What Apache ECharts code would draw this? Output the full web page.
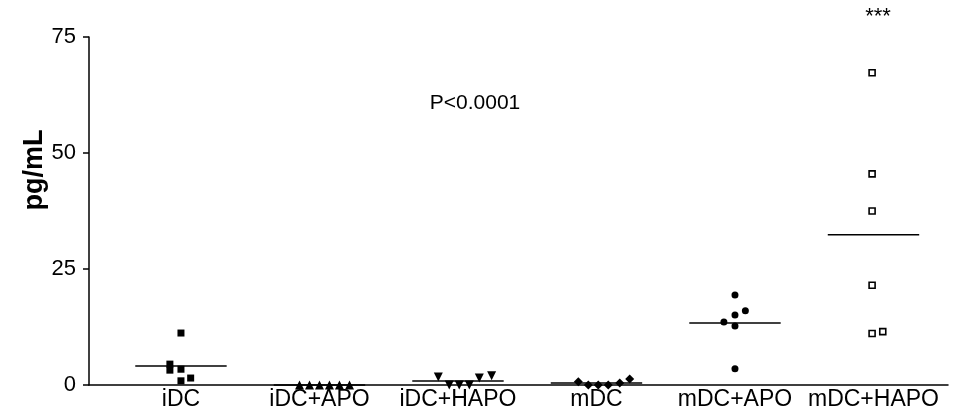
<!DOCTYPE html>
<html>
<head>
<meta charset="utf-8">
<script src="https://cdn.jsdelivr.net/npm/echarts@6/dist/echarts.min.js"></script>
<style>
  html, body { margin: 0; padding: 0; background: #fff; }
  #chart { width: 954px; height: 416px; }
</style>
</head>
<body>
<div id="chart"></div>
<script>
// Groups along the x axis
const categories = ['iDC', 'iDC+APO', 'iDC+HAPO', 'mDC', 'mDC+APO', 'mDC+HAPO'];

// Measured concentrations (pg/mL), one array per group
const iDC      = [11.2, 4.5, 3.2, 3.4, 0.9, 1.5];
const iDC_APO  = [0, 0, 0, 0, 0, 0];
const iDC_HAPO = [1.7, 0, 0, 0, 1.5, 2.0];
const mDC      = [0.7, 0, 0, 0, 0.45, 1.3];
const mDC_APO  = [19.4, 16.0, 15.1, 13.6, 12.7, 3.5];
const mDC_HAPO = [67.3, 45.5, 37.5, 21.5, 11.1, 11.5];

// Horizontal scatter of each dot within its column (category units)
const spread_iDC      = [0, -0.08, -0.08, 0, 0, 0.07];
const spread_iDC_APO  = [-0.144, -0.072, 0, 0.072, 0.144, 0.217];
const spread_iDC_HAPO = [-0.142, -0.063, 0.009, 0.082, 0.154, 0.243];
const spread_mDC      = [-0.131, -0.059, 0.013, 0.085, 0.168, 0.240];
const spread_mDC_APO  = [0, 0.075, 0, -0.08, 0, 0];
const spread_mDC_HAPO = [-0.01, -0.01, -0.01, -0.01, -0.01, 0.067];

const yTicks = [0, 25, 50, 75];

const groups = [iDC, iDC_APO, iDC_HAPO, mDC, mDC_APO, mDC_HAPO];
const spreads = [spread_iDC, spread_iDC_APO, spread_iDC_HAPO, spread_mDC, spread_mDC_APO, spread_mDC_HAPO];

// marker per group
const markers = [
  { symbol: 'rect', size: 7, rotate: 0, fill: '#000' },
  { symbol: 'triangle', size: 9, rotate: 0, fill: '#000' },
  { symbol: 'triangle', size: 9, rotate: 180, fill: '#000' },
  { symbol: 'diamond', size: 9, rotate: 0, fill: '#000' },
  { symbol: 'circle', size: 7, rotate: 0, fill: '#000' },
  { symbol: 'rect', size: 6, rotate: 0, fill: '#fff' }
];

const mean = arr => arr.reduce((a, b) => a + b, 0) / arr.length;
const means = groups.map(mean);

const FONT = '"Liberation Sans", Arial, sans-serif';

const series = groups.map((vals, gi) => ({
  type: 'scatter',
  symbol: markers[gi].symbol,
  symbolSize: markers[gi].size,
  symbolRotate: markers[gi].rotate,
  itemStyle: {
    color: markers[gi].fill,
    borderColor: '#000',
    borderWidth: markers[gi].fill === '#fff' ? 1.6 : 0,
    opacity: 1
  },
  z: 5,
  data: vals.map((v, i) => [gi + spreads[gi][i], v])
}));

// Mean bar for each group
series.push({
  type: 'custom',
  z: 4,
  data: means.map((m, i) => [i, m]),
  renderItem: function (params, api) {
    const x = api.value(0), y = api.value(1);
    const p1 = api.coord([x - 0.33, y]);
    const p2 = api.coord([x + 0.33, y]);
    return {
      type: 'line',
      shape: { x1: p1[0], y1: p1[1], x2: p2[0], y2: p2[1] },
      style: { stroke: '#000', lineWidth: 1.5 }
    };
  }
});

const chart = echarts.init(document.getElementById('chart'));
chart.setOption({
  animation: false,
  backgroundColor: '#fff',
  grid: { left: 89, right: 6, top: 37, bottom: 31, containLabel: false },
  xAxis: {
    type: 'value',
    min: -0.664,
    max: 5.538,
    axisLine: { show: true, onZero: false, lineStyle: { color: '#000', width: 1.5 } },
    axisTick: { show: false },
    splitLine: { show: false },
    axisLabel: {
      customValues: [0, 1, 2, 3, 4, 5],
      formatter: v => categories[Math.round(v)],
      color: '#000',
      fontFamily: FONT,
      fontSize: 23,
      margin: 3
    }
  },
  yAxis: {
    type: 'value',
    min: yTicks[0],
    max: yTicks[yTicks.length - 1],
    interval: 25,
    axisLine: { show: true, onZero: false, lineStyle: { color: '#000', width: 1.5 } },
    axisTick: { show: true, length: 6, lineStyle: { color: '#000', width: 1.5 } },
    splitLine: { show: false },
    axisLabel: { color: '#000', fontFamily: FONT, fontSize: 22, margin: 13 }
  },
  graphic: [
    {
      type: 'text',
      x: 35, y: 170,
      rotation: Math.PI / 2,
      style: {
        text: 'pg/mL', fill: '#000', fontFamily: FONT, fontWeight: 'bold',
        fontSize: 27, align: 'center', verticalAlign: 'middle'
      }
    },
    {
      type: 'text',
      x: 475, y: 103,
      style: {
        text: 'P<0.0001', fill: '#000', fontFamily: FONT,
        fontSize: 21, align: 'center', verticalAlign: 'middle'
      }
    },
    {
      type: 'text',
      x: 878, y: 17,
      style: {
        text: '***', fill: '#000', fontFamily: FONT,
        fontSize: 22, align: 'center', verticalAlign: 'middle'
      }
    }
  ],
  series: series
});
</script>
</body>
</html>
